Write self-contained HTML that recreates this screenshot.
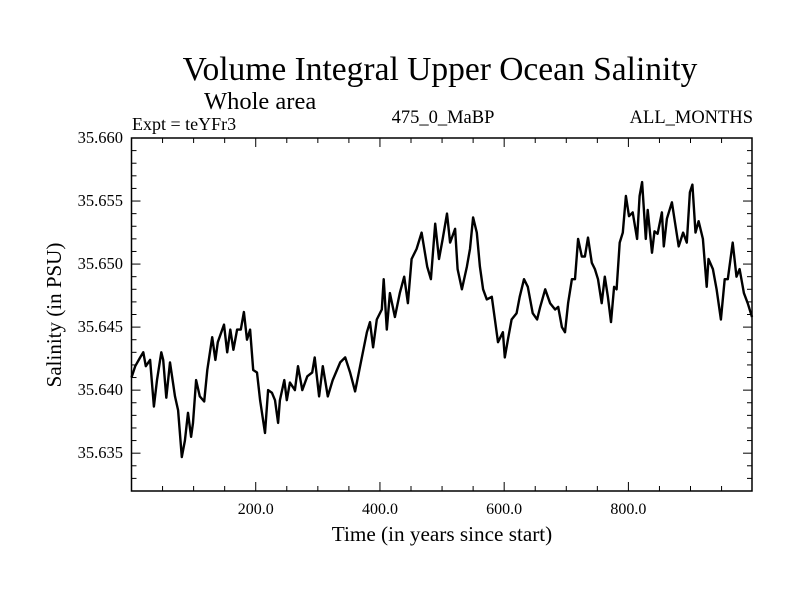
<!DOCTYPE html>
<html><head><meta charset="utf-8"><style>
body{margin:0;background:#fff;}
svg{display:block;font-family:"Liberation Serif",serif;}
</style></head><body>
<svg id="chart" width="800" height="600" viewBox="0 0 800 600">
<rect x="0" y="0" width="800" height="600" fill="#fff"/>
<text x="440" y="80" font-size="33.5" text-anchor="middle">Volume Integral Upper Ocean Salinity</text>
<text x="204" y="109" font-size="24.5">Whole area</text>
<text x="132" y="130" font-size="18">Expt = teYFr3</text>
<text x="443" y="123" font-size="18.5" text-anchor="middle">475_0_MaBP</text>
<text x="753" y="123" font-size="18.5" text-anchor="end">ALL_MONTHS</text>
<text x="442" y="541" font-size="21.2" text-anchor="middle">Time (in years since start)</text>
<text transform="translate(61,315) rotate(-90)" font-size="21" text-anchor="middle">Salinity (in PSU)</text>
<g id="axes"></g>
<g id="series"></g>
</svg>
<script>
const years=[0,6,14,19,23,30,36,41,48,51,56,62,70,75,81,86,91,96,99,104,110,117,122,130,135,139,149,154,159,164,170,176,181,186,191,196,202,207,215,220,226,231,236,239,246,250,255,263,268,275,283,291,295,302,308,316,324,336,344,352,360,368,379,384,389,395,403,406,411,416,424,432,439,445,451,459,467,476,482,489,495,501,508,513,521,525,532,540,545,550,556,561,566,572,580,585,590,598,601,606,612,620,625,632,638,646,653,658,666,674,682,687,693,698,703,709,714,719,725,730,735,741,746,751,757,762,767,772,777,781,786,791,796,801,807,814,818,822,828,831,838,842,847,854,857,862,870,875,881,888,894,899,903,908,913,920,926,929,936,942,949,955,960,968,974,979,986,992,999];
const salinity=[35.6410,35.6419,35.6426,35.6430,35.6419,35.6424,35.6387,35.6408,35.6430,35.6424,35.6394,35.6422,35.6395,35.6384,35.6347,35.6360,35.6382,35.6363,35.6374,35.6408,35.6395,35.6391,35.6416,35.6442,35.6424,35.6438,35.6452,35.6430,35.6448,35.6432,35.6448,35.6448,35.6462,35.6440,35.6448,35.6416,35.6414,35.6392,35.6366,35.6400,35.6398,35.6392,35.6374,35.6392,35.6408,35.6392,35.6406,35.6400,35.6419,35.6400,35.6411,35.6414,35.6426,35.6395,35.6419,35.6395,35.6408,35.6422,35.6426,35.6414,35.6399,35.6419,35.6446,35.6454,35.6434,35.6456,35.6464,35.6488,35.6448,35.6477,35.6458,35.6477,35.6490,35.6469,35.6504,35.6512,35.6525,35.6498,35.6488,35.6532,35.6504,35.6520,35.6540,35.6517,35.6528,35.6496,35.6480,35.6498,35.6512,35.6537,35.6525,35.6498,35.6480,35.6472,35.6474,35.6456,35.6438,35.6446,35.6426,35.6440,35.6456,35.6461,35.6474,35.6488,35.6482,35.6461,35.6456,35.6466,35.6480,35.6469,35.6464,35.6466,35.6450,35.6446,35.6469,35.6488,35.6488,35.6520,35.6506,35.6506,35.6521,35.6501,35.6496,35.6488,35.6469,35.6490,35.6474,35.6454,35.6482,35.6480,35.6517,35.6525,35.6554,35.6538,35.6541,35.6520,35.6554,35.6565,35.6520,35.6543,35.6509,35.6526,35.6524,35.6541,35.6514,35.6536,35.6549,35.6533,35.6514,35.6525,35.6517,35.6557,35.6563,35.6525,35.6534,35.6520,35.6482,35.6504,35.6496,35.6480,35.6456,35.6488,35.6488,35.6517,35.6490,35.6496,35.6477,35.6469,35.6458];
const xTickValues=[200,400,600,800];
const xTickLabels=["200.0","400.0","600.0","800.0"];
const yTickValues=[35.635,35.640,35.645,35.650,35.655,35.660];
const yTickLabels=["35.635","35.640","35.645","35.650","35.655","35.660"];
const xDomain=[0,999], yDomain=[35.632,35.660];
const L=131.5,R=752,T=138,B=491;
const xs=v=>L+(v-xDomain[0])/(xDomain[1]-xDomain[0])*(R-L);
const ys=v=>B-(v-yDomain[0])/(yDomain[1]-yDomain[0])*(B-T);
const NS="http://www.w3.org/2000/svg";
const axes=document.getElementById('axes');
function mk(tag,attrs,parent){const e=document.createElementNS(NS,tag);for(const k in attrs)e.setAttribute(k,attrs[k]);parent.appendChild(e);return e;}
const frame=mk('rect',{x:L,y:T,width:R-L,height:B-T,fill:'none',stroke:'#000','stroke-width':1.5},axes);


for(let v=50;v<xDomain[1];v+=50){
  const major=v%200===0, len=major?9:5, x=xs(v);
  const t1=mk('line',{x1:x,x2:x,y1:B,y2:B-len,stroke:'#000','stroke-width':1},axes);
  
  
  const t2=mk('line',{x1:x,x2:x,y1:T,y2:T+len,stroke:'#000','stroke-width':1},axes);
  
  
}
xTickValues.forEach((v,i)=>{
  const t=mk('text',{x:xs(v),y:B+23,'font-size':16,'text-anchor':'middle'},axes);
  t.textContent=xTickLabels[i];
  
  
});
for(let k=33;k<=59;k++){
  const v=k/1000+35.6, major=k%5===0, len=major?9:5, y=ys(v);
  const t1=mk('line',{x1:L,x2:L+len,y1:y,y2:y,stroke:'#000','stroke-width':1},axes);
  
  
  const t2=mk('line',{x1:R,x2:R-len,y1:y,y2:y,stroke:'#000','stroke-width':1},axes);
  
  
}
yTickValues.forEach((v,i)=>{
  const t=mk('text',{x:123,y:ys(v)+5,'font-size':16.5,'text-anchor':'end'},axes);
  t.textContent=yTickLabels[i];
  
  
});
const d=years.map((yr,i)=>(i?'L':'M')+xs(yr).toFixed(1)+','+ys(salinity[i]).toFixed(1)).join('');
const line=mk('path',{d:d,fill:'none',stroke:'#000','stroke-width':2.4,'stroke-linejoin':'round'},document.getElementById('series'));


</script>
</body></html>
